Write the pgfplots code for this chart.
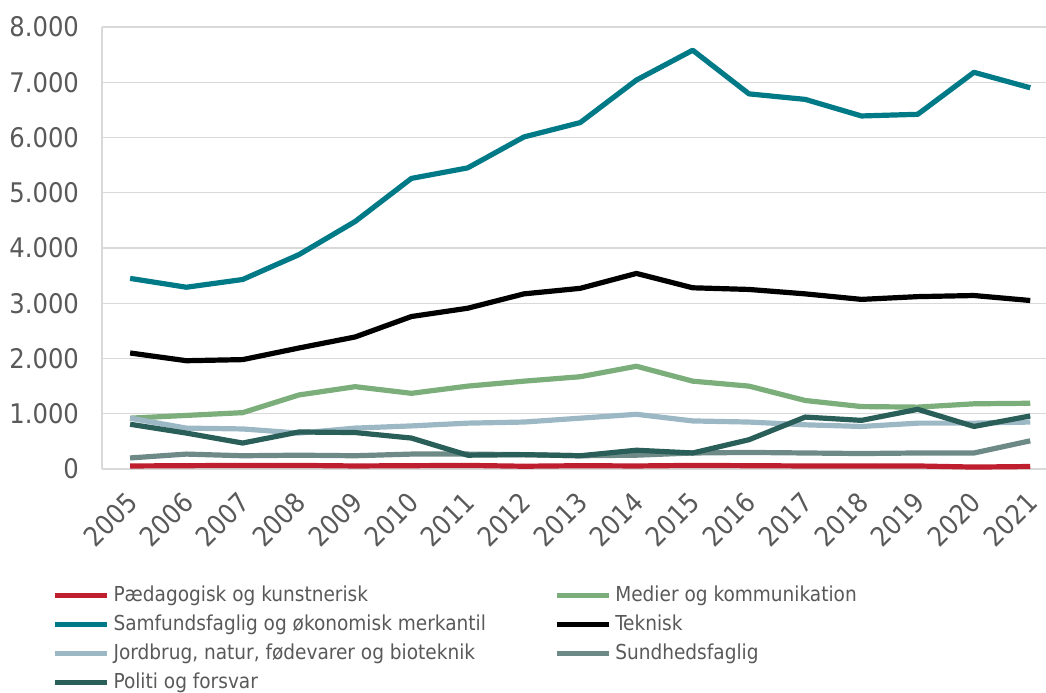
\documentclass[border=0pt]{standalone}
\usepackage{fontspec}
\setmainfont{DejaVu Sans Condensed}
\usepackage{pgfplots}
\pgfplotsset{compat=1.18}
\definecolor{cpaed}{HTML}{BE1E2D}
\definecolor{cmed}{HTML}{7BAE7B}
\definecolor{csam}{HTML}{007A87}
\definecolor{ctek}{HTML}{000000}
\definecolor{cjord}{HTML}{9CB8C5}
\definecolor{csund}{HTML}{6E8A86}
\definecolor{cpol}{HTML}{2A5E58}
\definecolor{ctxt}{HTML}{595959}
\definecolor{cgrid}{HTML}{D9D9D9}
\begin{document}
\begin{tikzpicture}
\begin{axis}[
  scale only axis, width=472pt, height=221pt,
  xmin=2004.5, xmax=2021.28, ymin=0, ymax=8000,
  xtick={2005,2006,...,2021},
  ytick={0,1000,...,8000},
  xticklabel style={rotate=45, anchor=east, font=\fontsize{13.5}{13.5}\selectfont, text=ctxt, yshift=-10.8pt, xshift=-5.9pt,
    /pgf/number format/1000 sep={}},
  yticklabel style={font=\fontsize{13.5}{13.5}\selectfont, text=ctxt, xshift=-8pt},
  /pgf/number format/assume math mode=true,
  /pgf/number format/.cd, 1000 sep={.}, /pgfplots/.cd,
  scaled y ticks=false,
  axis x line*=bottom, axis y line*=left,
  axis line style={cgrid, line width=0.6pt},
  major tick length=0pt,
  ymajorgrids, grid style={cgrid, line width=0.6pt},
  every axis plot/.append style={line width=2.6pt, line join=round},
  legend columns=2,
  legend cell align=left,
  legend style={at={(axis description cs:-0.053,-0.255)}, anchor=north west, draw=none, fill=none,
    font=\fontsize{10.3}{10.3}\selectfont, text=ctxt, row sep=1.2pt,
    /tikz/every even column/.append style={column sep=32pt},
    inner sep=0pt},
  legend image code/.code={\draw[#1, line width=2.6pt] (0pt,0pt) -- (26pt,0pt);},
]
\addplot[cpaed] coordinates {(2005,55) (2006,60) (2007,65) (2008,65) (2009,55) (2010,60) (2011,65) (2012,50) (2013,60) (2014,55) (2015,65) (2016,60) (2017,55) (2018,55) (2019,55) (2020,35) (2021,45)};
\addlegendentry{Pædagogisk og kunstnerisk}
\addplot[cmed] coordinates {(2005,920) (2006,970) (2007,1020) (2008,1340) (2009,1490) (2010,1370) (2011,1500) (2012,1590) (2013,1670) (2014,1860) (2015,1590) (2016,1500) (2017,1240) (2018,1130) (2019,1120) (2020,1180) (2021,1190)};
\addlegendentry{Medier og kommunikation}
\addplot[csam] coordinates {(2005,3450) (2006,3290) (2007,3430) (2008,3880) (2009,4480) (2010,5260) (2011,5450) (2012,6010) (2013,6270) (2014,7040) (2015,7580) (2016,6790) (2017,6690) (2018,6390) (2019,6420) (2020,7180) (2021,6900)};
\addlegendentry{Samfundsfaglig og økonomisk merkantil}
\addplot[ctek] coordinates {(2005,2100) (2006,1960) (2007,1980) (2008,2190) (2009,2390) (2010,2760) (2011,2910) (2012,3170) (2013,3270) (2014,3540) (2015,3280) (2016,3250) (2017,3170) (2018,3070) (2019,3120) (2020,3140) (2021,3050)};
\addlegendentry{Teknisk}
\addplot[cjord] coordinates {(2005,920) (2006,740) (2007,725) (2008,650) (2009,740) (2010,780) (2011,830) (2012,850) (2013,920) (2014,990) (2015,870) (2016,850) (2017,800) (2018,770) (2019,830) (2020,830) (2021,850)};
\addlegendentry{Jordbrug, natur, fødevarer og bioteknik}
\addplot[csund] coordinates {(2005,200) (2006,270) (2007,240) (2008,250) (2009,240) (2010,270) (2011,270) (2012,260) (2013,240) (2014,250) (2015,290) (2016,300) (2017,290) (2018,280) (2019,290) (2020,290) (2021,510)};
\addlegendentry{Sundhedsfaglig}
\addplot[cpol] coordinates {(2005,810) (2006,650) (2007,470) (2008,670) (2009,660) (2010,560) (2011,250) (2012,260) (2013,240) (2014,340) (2015,290) (2016,530) (2017,940) (2018,880) (2019,1080) (2020,770) (2021,960)};
\addlegendentry{Politi og forsvar}
\end{axis}
\pgfresetboundingbox
\useasboundingbox (current axis.south west) ++(-51pt,-111.5pt) rectangle ++(523pt,346pt);
\end{tikzpicture}
\end{document}
